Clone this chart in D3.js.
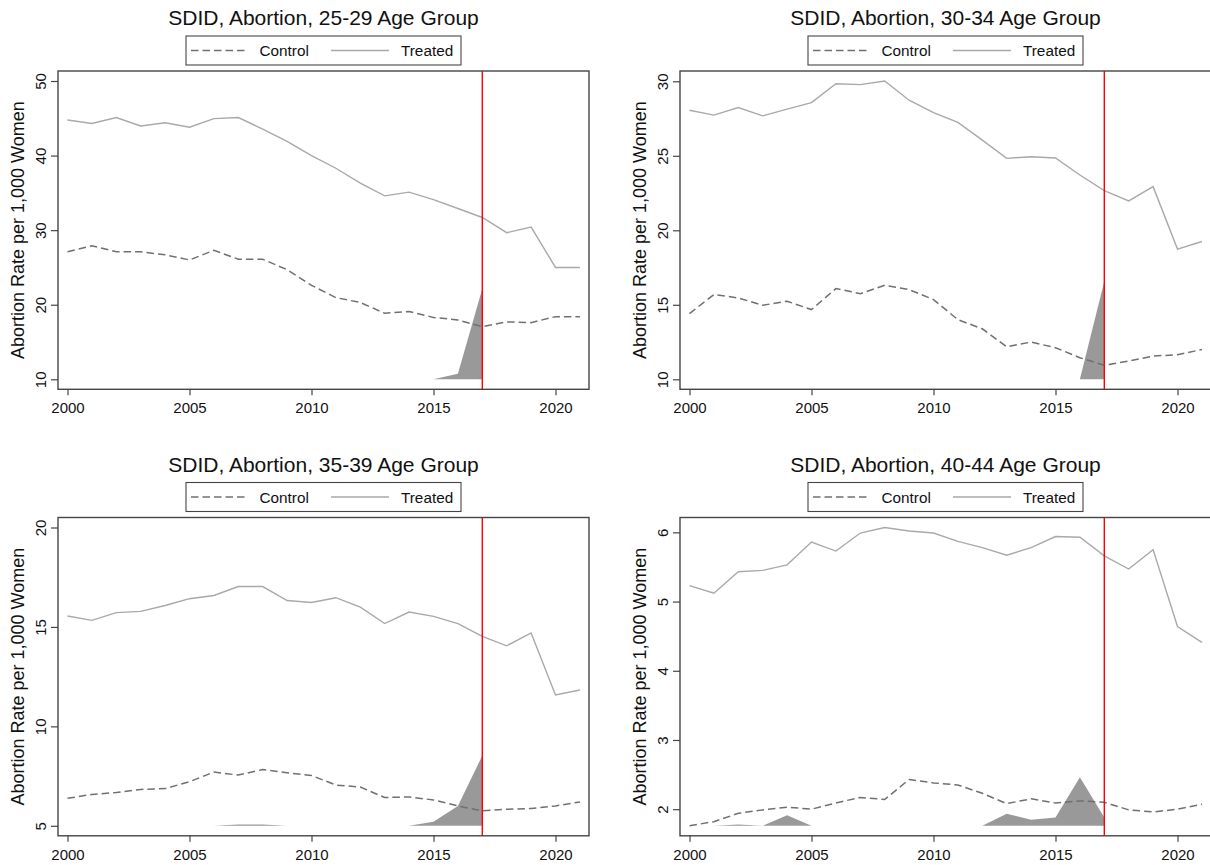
<!DOCTYPE html>
<html>
<head>
<meta charset="utf-8">
<script src="https://cdn.jsdelivr.net/npm/d3@7"></script>
<style>
  html, body { margin: 0; padding: 0; background: #fff; }
  svg { display: block; font-family: "Liberation Sans", Arial, sans-serif; }
</style>
</head>
<body>
<svg id="chart" width="1210" height="865"></svg>
<script>
// ---------------- DATA ----------------
const years = [2000,2001,2002,2003,2004,2005,2006,2007,2008,2009,2010,2011,2012,2013,2014,2015,2016,2017,2018,2019,2020,2021];
const preYears = [2000,2001,2002,2003,2004,2005,2006,2007,2008,2009,2010,2011,2012,2013,2014,2015,2016,2017];
const xTicks = [2000, 2005, 2010, 2015, 2020];
const treatYear = 2017;

const titles = [
  "SDID, Abortion, 25-29 Age Group",
  "SDID, Abortion, 30-34 Age Group",
  "SDID, Abortion, 35-39 Age Group",
  "SDID, Abortion, 40-44 Age Group"
];
const legendLabels = ["Control", "Treated"];
const yTitle = "Abortion Rate per 1,000 Women";

const treated2529 = [44.77,44.3,45.1,43.97,44.4,43.8,44.95,45.1,43.56,41.9,40.0,38.3,36.3,34.6,35.1,34.1,32.9,31.7,29.66,30.4,25.0,25.0];
const control2529 = [27.1,27.9,27.1,27.1,26.7,26.0,27.3,26.1,26.1,24.7,22.6,20.95,20.3,18.85,19.1,18.3,17.95,17.05,17.7,17.6,18.4,18.4];
const weights2529 = [0,0,0,0,0,0,0,0,0,0,0,0,0,0,0,0,0.76,12.15];
const yTicks2529 = [10,20,30,40,50];

const treated3034 = [28.06,27.73,28.24,27.68,28.13,28.57,29.84,29.78,30.02,28.73,27.9,27.24,26.05,24.83,24.94,24.85,23.71,22.66,21.97,22.93,18.74,19.25];
const control3034 = [14.41,15.69,15.46,14.97,15.24,14.68,16.09,15.75,16.31,16.02,15.35,14.0,13.39,12.18,12.5,12.12,11.45,10.94,11.23,11.56,11.65,12.0];
const weights3034 = [0,0,0,0,0,0,0,0,0,0,0,0,0,0,0,0,0,6.58];
const yTicks3034 = [10,15,20,25,30];

const treated3539 = [15.55,15.33,15.72,15.78,16.08,16.42,16.58,17.03,17.03,16.33,16.23,16.47,16.0,15.17,15.75,15.53,15.17,14.53,14.05,14.7,11.58,11.83];
const control3539 = [6.38,6.58,6.67,6.83,6.87,7.22,7.7,7.55,7.83,7.67,7.53,7.05,6.95,6.42,6.45,6.3,6.0,5.75,5.83,5.87,6.0,6.2];
const weights3539 = [0,0,0,0,0,0,0,0.06,0.06,0,0,0,0,0,0,0.2,1.0,3.53];
const yTicks3539 = [5,10,15,20];

const treated4044 = [5.23,5.12,5.43,5.45,5.53,5.86,5.73,5.99,6.07,6.02,5.99,5.87,5.78,5.67,5.78,5.94,5.93,5.66,5.47,5.75,4.64,4.41];
const control4044 = [1.76,1.82,1.94,1.99,2.03,2.0,2.09,2.17,2.14,2.43,2.38,2.35,2.23,2.08,2.15,2.09,2.12,2.1,1.99,1.96,2.0,2.07];
const weights4044 = [0,0,0.02,0,0.154,0,0,0,0,0,0,0,0,0.173,0.086,0.12,0.70,0.12];
const yTicks4044 = [2,3,4,5,6];

const panels = [
  { title: titles[0], treated: treated2529, control: control2529, weights: weights2529, ticks: yTicks2529 },
  { title: titles[1], treated: treated3034, control: control3034, weights: weights3034, ticks: yTicks3034 },
  { title: titles[2], treated: treated3539, control: control3539, weights: weights3539, ticks: yTicks3539 },
  { title: titles[3], treated: treated4044, control: control4044, weights: weights4044, ticks: yTicks4044 }
];

// ---------------- STYLE / LAYOUT ----------------
const C_TREATED = "#a9a9a9";
const C_CONTROL = "#707070";
const C_AREA = "#999999";
const C_FRAME = "#454545";
const DASH = "7.5,4";

const svg = d3.select("#chart");
svg.append("rect").attr("width", 1210).attr("height", 865).attr("fill", "#fff");

const boxW = 531, boxH = 318.3;
const colLeft = [58, 680];
const rowTop = [71, 517.5];
const padX = 9.5, padY = 10;

panels.forEach((p, i) => {
  const left = colLeft[i % 2];
  const top = rowTop[Math.floor(i / 2)];
  const bottom = top + boxH;
  const cx = left + boxW / 2;
  const g = svg.append("g");

  const x = d3.scaleLinear()
    .domain(d3.extent(years))
    .range([left + padX, left + padX + 512.4]);
  const allVals = p.treated.concat(p.control, p.ticks);
  const y = d3.scaleLinear()
    .domain(d3.extent(allVals))
    .range([bottom - padY, top + padY]);
  const base = y.domain()[0];

  // title
  g.append("text")
    .attr("x", cx).attr("y", top - 46)
    .attr("text-anchor", "middle")
    .attr("font-size", "21px")
    .attr("fill", "#111")
    .text(p.title);

  // legend
  const lx = cx - 137.5, ly = top - 35;
  g.append("rect")
    .attr("x", lx).attr("y", ly).attr("width", 275).attr("height", 29)
    .attr("fill", "#fff").attr("stroke", C_FRAME).attr("stroke-width", 1.1);
  g.append("line")
    .attr("x1", lx + 5).attr("x2", lx + 60).attr("y1", ly + 14.5).attr("y2", ly + 14.5)
    .attr("stroke", C_CONTROL).attr("stroke-width", 1.5).attr("stroke-dasharray", DASH);
  g.append("text")
    .attr("x", lx + 73.5).attr("y", ly + 20)
    .attr("font-size", "15.3px").attr("fill", "#111")
    .text(legendLabels[0]);
  g.append("line")
    .attr("x1", lx + 145).attr("x2", lx + 203).attr("y1", ly + 14.5).attr("y2", ly + 14.5)
    .attr("stroke", C_TREATED).attr("stroke-width", 1.4);
  g.append("text")
    .attr("x", lx + 215).attr("y", ly + 20)
    .attr("font-size", "15.3px").attr("fill", "#111")
    .text(legendLabels[1]);

  // weights area
  const area = d3.area()
    .x((d, k) => x(preYears[k]))
    .y0(y(base))
    .y1(d => y(base + d));
  g.append("path")
    .datum(p.weights)
    .attr("d", area)
    .attr("fill", C_AREA)
    .attr("stroke", "none");

  // lines
  const line = d3.line().x((d, k) => x(years[k])).y(d => y(d));
  g.append("path").datum(p.control)
    .attr("d", line).attr("fill", "none")
    .attr("stroke", C_CONTROL).attr("stroke-width", 1.5)
    .attr("stroke-dasharray", DASH);
  g.append("path").datum(p.treated)
    .attr("d", line).attr("fill", "none")
    .attr("stroke", C_TREATED).attr("stroke-width", 1.4);

  // treatment line
  g.append("line")
    .attr("x1", x(treatYear)).attr("x2", x(treatYear))
    .attr("y1", top).attr("y2", bottom)
    .attr("stroke", "#ff0000").attr("stroke-width", 1.4);

  // frame
  g.append("rect")
    .attr("x", left).attr("y", top).attr("width", boxW).attr("height", boxH)
    .attr("fill", "none").attr("stroke", C_FRAME).attr("stroke-width", 1.4);

  // y axis
  const ya = g.append("g")
    .attr("transform", `translate(${left},0)`)
    .call(d3.axisLeft(y).tickValues(p.ticks).tickSize(7).tickFormat(d3.format("d")));
  ya.select(".domain").remove();
  ya.selectAll(".tick line").attr("stroke", C_FRAME).attr("stroke-width", 1.2);
  ya.selectAll(".tick text")
    .attr("x", null).attr("dy", null)
    .attr("transform", "translate(-12,0) rotate(-90)")
    .attr("text-anchor", "middle")
    .attr("font-size", "15px")
    .attr("font-family", "Liberation Sans, Arial, sans-serif")
    .attr("fill", "#111");

  // x axis
  const xa = g.append("g")
    .attr("transform", `translate(0,${bottom})`)
    .call(d3.axisBottom(x).tickValues(xTicks).tickSize(6).tickFormat(d3.format("d")));
  xa.select(".domain").remove();
  xa.selectAll(".tick line").attr("stroke", C_FRAME).attr("stroke-width", 1.2);
  xa.selectAll(".tick text")
    .attr("y", 24).attr("dy", null)
    .attr("font-size", "15px")
    .attr("font-family", "Liberation Sans, Arial, sans-serif")
    .attr("fill", "#111");

  // y title
  g.append("text")
    .attr("transform", `translate(${left - 34.5},${top + boxH / 2}) rotate(-90)`)
    .attr("text-anchor", "middle")
    .attr("font-size", "18px")
    .attr("fill", "#111")
    .text(yTitle);
});
</script>
</body>
</html>
